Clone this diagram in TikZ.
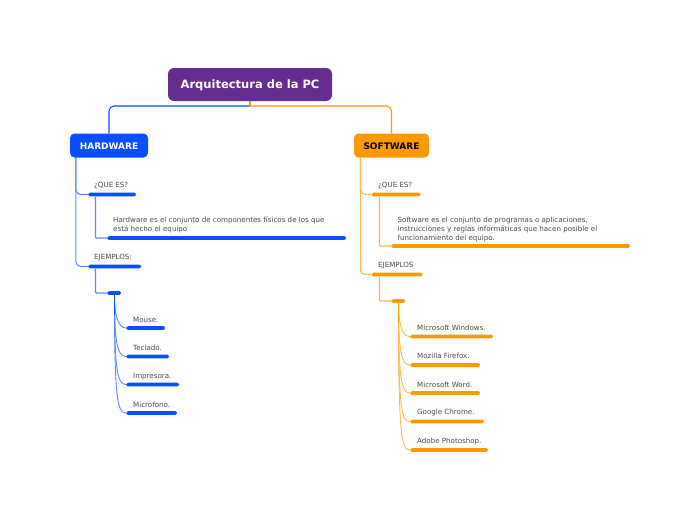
\documentclass[tikz,border=0pt]{standalone}
\usepackage{fontspec}
\setmainfont{DejaVu Sans}
\definecolor{hwblue}{HTML}{0A4FFF}
\definecolor{hwlight}{HTML}{5C8AFF}
\definecolor{swor}{HTML}{FF9900}
\definecolor{swlight}{HTML}{FFB84D}
\definecolor{rootp}{HTML}{662D91}
\definecolor{txt}{HTML}{4A4A4A}
\tikzset{
  x=1pt,y=-1pt,
  bar/.style={inner sep=0pt,minimum height=3.6pt,rounded corners=1.6pt,fill=#1,draw=none,anchor=west},
  lab/.style={anchor=west,inner sep=0pt,text=txt,font=\fontsize{7.1}{9}\selectfont,align=left},
  head/.style={rounded corners=4.5pt,inner sep=0pt,text height=8.6pt,text depth=0pt,font=\fontsize{9}{11}\selectfont\bfseries},
  link/.style={line width=1.1pt,rounded corners=5pt},
  curvelink/.style={line width=0.9pt},
}
\begin{document}
\begin{tikzpicture}
\useasboundingbox (0,0) rectangle (697,520);
% main nodes
\node[head,fill=rootp,text=white,minimum width=164pt,minimum height=33pt,text height=11pt,text depth=2.4pt,font=\fontsize{11.5}{13}\selectfont\bfseries,rounded corners=6pt] (root) at (250,84.5) {Arquitectura de la PC};
\node[head,fill=hwblue,text=white,minimum width=78pt,minimum height=24pt] (hw) at (109,145.5) {HARDWARE};
\node[head,fill=swor,text=black,minimum width=75pt,minimum height=24pt] (sw) at (391.5,145.5) {SOFTWARE};
\coordinate (rj) at (250,106);
% hardware bars
\node[bar=hwblue,minimum width=48pt] (hq) at (88,194.5) {};
\node[bar=hwblue,minimum width=239pt] (ht) at (107,238) {};
\node[bar=hwblue,minimum width=53pt] (he) at (88,266.5) {};
\node[bar=hwblue,minimum width=14pt] (hs) at (107,293) {};
\node[bar=hwblue,minimum width=39pt] (h1) at (126,328) {};
\node[bar=hwblue,minimum width=43pt] (h2) at (126,356.5) {};
\node[bar=hwblue,minimum width=53pt] (h3) at (126,384.5) {};
\node[bar=hwblue,minimum width=51pt] (h4) at (126,413) {};
% software bars
\node[bar=swor,minimum width=49pt] (sq) at (371.5,194.5) {};
\node[bar=swor,minimum width=239pt] (st) at (391,246) {};
\node[bar=swor,minimum width=51pt] (se) at (371.5,274.5) {};
\node[bar=swor,minimum width=14pt] (ss) at (391,301) {};
\node[bar=swor,minimum width=83pt] (s1) at (410,336.5) {};
\node[bar=swor,minimum width=70pt] (s2) at (410,365) {};
\node[bar=swor,minimum width=70pt] (s3) at (410,393) {};
\node[bar=swor,minimum width=74pt] (s4) at (410,421.5) {};
\node[bar=swor,minimum width=78pt] (s5) at (410,450) {};
% labels
\node[lab] (lhq) at (94,185.5) {¿QUE ES?};
\node[lab] (lht) at (113,225) {Hardware es el conjunto de componentes físicos de los que\\está hecho el equipo};
\node[lab] (lhe) at (94,258) {EJEMPLOS:};
\node[lab] (lh1) at (133,320) {Mouse.};
\node[lab] (lh2) at (133,348) {Teclado.};
\node[lab] (lh3) at (133,377) {Impresora.};
\node[lab] (lh4) at (133,405) {Microfono.};
\node[lab] (lsq) at (378,185.5) {¿QUE ES?};
\node[lab] (lst) at (397.5,229.5) {Software es el conjunto de programas o aplicaciones,\\instrucciones y reglas informáticas que hacen posible el\\funcionamiento del equipo.};
\node[lab] (lse) at (378,265.5) {EJEMPLOS};
\node[lab] (ls1) at (417,327.5) {Microsoft Windows.};
\node[lab] (ls2) at (417,356) {Mozilla Firefox.};
\node[lab] (ls3) at (417,384.5) {Microsoft Word.};
\node[lab] (ls4) at (417,413) {Google Chrome.};
\node[lab] (ls5) at (417,442) {Adobe Photoshop.};
% connectors root
\draw[link,hwblue] (rj) -| (hw.north);
\draw[link,swor] (rj) -| (sw.north);
\draw[line width=1.1pt,swor] (root.south) -- (rj);
% hardware connectors
\draw[link,hwlight] ([xshift=6pt]hw.south west) |- (hq.west);
\draw[link,hwlight] ([xshift=6pt]hw.south west) |- (he.west);
\draw[link,hwlight,rounded corners=1pt] ([xshift=7.5pt]hq.south west) |- (ht.west);
\draw[link,hwlight,rounded corners=1pt] ([xshift=7.5pt]he.south west) |- (hs.west);
\foreach \n in {h1,h2,h3,h4}{
  \draw[curvelink,hwlight] ([xshift=7.5pt]hs.south west) .. controls ([xshift=7.5pt,yshift=16pt]\n.west -| hs.west) and ([xshift=10pt]\n.west -| hs.west) .. (\n.west);
}
\draw[line width=1.6pt,hwblue] ([xshift=7.5pt]hs.south west) -- ([xshift=7.5pt,yshift=-20pt]hs.south west);
% software connectors
\draw[link,swlight] ([xshift=6.5pt]sw.south west) |- (sq.west);
\draw[link,swlight] ([xshift=6.5pt]sw.south west) |- (se.west);
\draw[link,swlight,rounded corners=1pt] ([xshift=8pt]sq.south west) |- (st.west);
\draw[link,swlight,rounded corners=1pt] ([xshift=8pt]se.south west) |- (ss.west);
\foreach \n in {s1,s2,s3,s4,s5}{
  \draw[curvelink,swlight] ([xshift=7.5pt]ss.south west) .. controls ([xshift=7.5pt,yshift=16pt]\n.west -| ss.west) and ([xshift=10pt]\n.west -| ss.west) .. (\n.west);
}
\draw[line width=1.6pt,swor] ([xshift=7.5pt]ss.south west) -- ([xshift=7.5pt,yshift=-20pt]ss.south west);
\end{tikzpicture}
\end{document}
